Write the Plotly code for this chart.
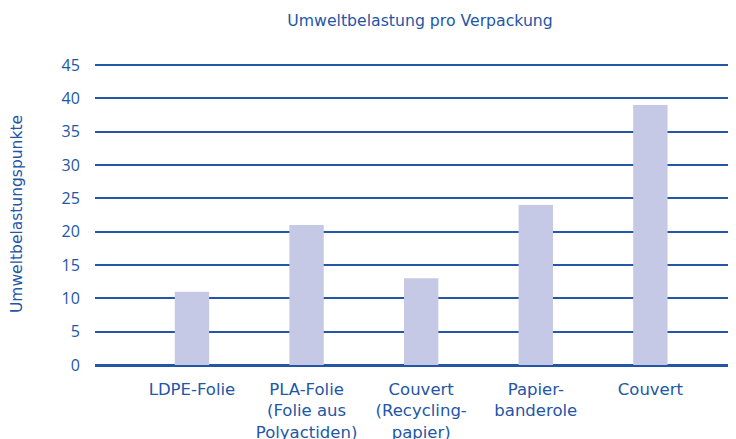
import plotly.graph_objects as go

categories = ["LDPE-Folie", "PLA-Folie<br>(Folie aus<br>Polyactiden)", "Couvert<br>(Recycling-<br>papier)", "Papier-<br>banderole", "Couvert"]
values = [11, 21, 13, 24, 39]
y_ticks = [0, 5, 10, 15, 20, 25, 30, 35, 40, 45]

blue = "#2356a6"
font = "DejaVu Sans, sans-serif"

fig = go.Figure(go.Bar(x=list(range(len(categories))), y=values, marker_color="#c6c9e5",
                       marker_line_width=0, width=0.3))

fig.update_layout(
    width=728, height=431,
    margin=dict(l=87, r=0, t=55, b=74, autoexpand=False),
    plot_bgcolor="white", paper_bgcolor="white",
    showlegend=False,
    font=dict(family=font, color=blue, size=14),
    title=dict(text="Umweltbelastung pro Verpackung", x=0.566, xanchor="center", y=0.972, yanchor="middle",
               font=dict(size=15.7, color=blue, family=font)),
)
fig.update_xaxes(
    tickmode="array", tickvals=list(range(len(categories))), ticktext=categories,
    range=[-0.846, 4.747], showgrid=False, zeroline=False, showline=False,
    ticks="outside", ticklen=9, tickcolor="rgba(0,0,0,0)", automargin=False,
    tickfont=dict(size=16.5, color=blue, family=font), fixedrange=True,
)
fig.update_yaxes(
    range=[0, 45.3], tickvals=y_ticks, showgrid=True, gridcolor=blue, gridwidth=1.6,
    zeroline=True, zerolinecolor=blue, zerolinewidth=3, automargin=False,
    ticks="outside", ticklen=11, tickcolor="rgba(0,0,0,0)",
    tickfont=dict(size=16, color=blue, family="Open Sans, sans-serif"),
    title=dict(text="Umweltbelastungspunkte", font=dict(size=15.5, color=blue, family=font), standoff=35),
)

fig.write_html("out.html")
